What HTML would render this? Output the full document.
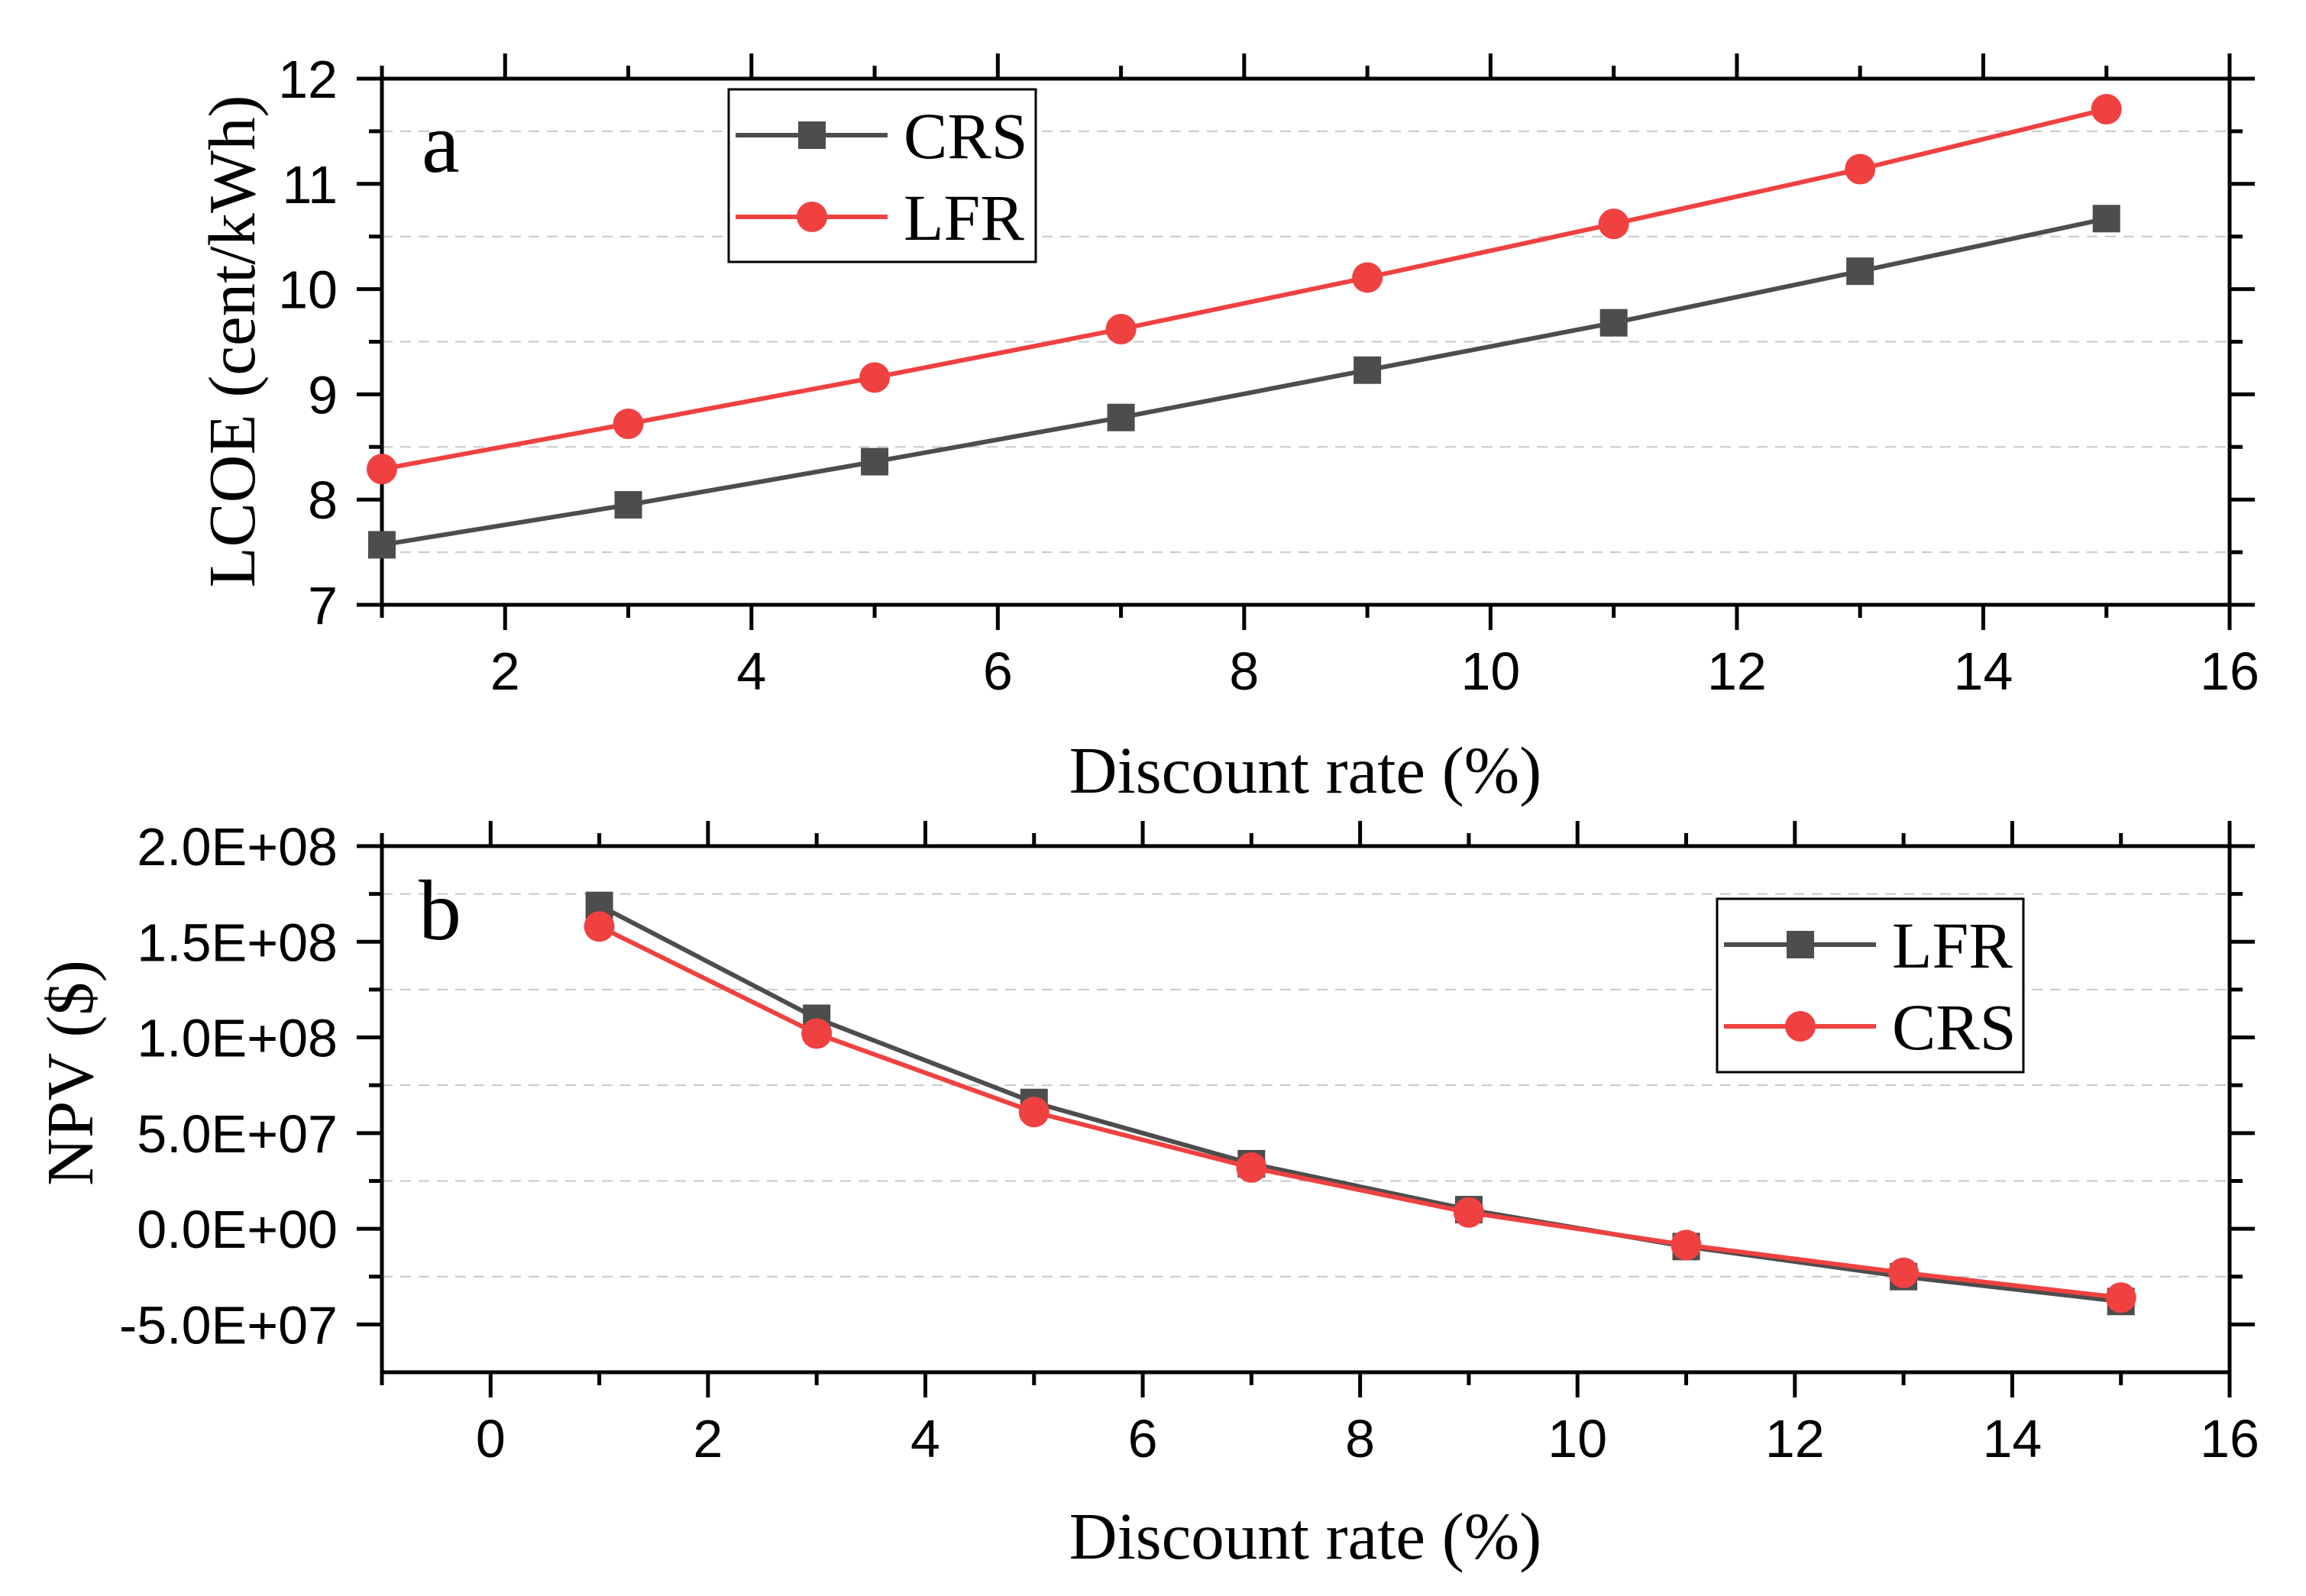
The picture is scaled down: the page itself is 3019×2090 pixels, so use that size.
<!DOCTYPE html>
<html><head><meta charset="utf-8"><style>
html,body{margin:0;padding:0;background:#fff;}
svg{display:block;}
.tk{font-family:"Liberation Sans",Arial,sans-serif;font-size:70px;fill:#000;}
.tt{font-family:"Liberation Serif","Times New Roman",serif;fill:#000;}
</style></head><body>
<svg id="chart" width="3019" height="2090" viewBox="0 0 3019 2090" xmlns="http://www.w3.org/2000/svg"></svg>
<script>
// Panel a data
const xA = [1, 3, 5, 7, 9, 11, 13, 15];
const lcoeCRS = [7.57, 7.95, 8.36, 8.78, 9.23, 9.68, 10.17, 10.67];
const lcoeLFR = [8.29, 8.72, 9.16, 9.62, 10.11, 10.62, 11.14, 11.71];
const xTicksA = [2, 4, 6, 8, 10, 12, 14, 16];
const yTicksA = [7, 8, 9, 10, 11, 12];
const yTickLabelsA = ["7", "8", "9", "10", "11", "12"];
// Panel b data
const xB = [1, 3, 5, 7, 9, 11, 13, 15];
const npvLFR = [1.69e8, 1.10e8, 6.6e7, 3.4e7, 1.0e7, -9.3e6, -2.5e7, -3.8e7];
const npvCRS = [1.58e8, 1.02e8, 6.1e7, 3.2e7, 8.5e6, -8.5e6, -2.3e7, -3.6e7];
const xTicksB = [0, 2, 4, 6, 8, 10, 12, 14, 16];
const yTicksB = [-5e7, 0, 5e7, 1e8, 1.5e8, 2e8];
const yTickLabelsB = ["-5.0E+07", "0.0E+00", "5.0E+07", "1.0E+08", "1.5E+08", "2.0E+08"];

const NS = "http://www.w3.org/2000/svg";
const svg = document.getElementById("chart");
function mk(tag, attrs, parent, text) {
  const e = document.createElementNS(NS, tag);
  for (const k in attrs) e.setAttribute(k, attrs[k]);
  if (text !== undefined) e.textContent = text;
  (parent || svg).appendChild(e);
  return e;
}
const GRAY = "#4d4d4d", RED = "#f04141";

function panel(cfg) {
  const L = 500, R = 2919, T = cfg.top, B = cfg.bottom;
  const sx = v => L + (v - cfg.xmin) / (cfg.xmax - cfg.xmin) * (R - L);
  const sy = v => B - (v - cfg.ymin) / (cfg.ymax - cfg.ymin) * (B - T);
  const g = mk("g", {});
  
  
  for (let k = 0; k < cfg.yMinor.length; k++) {
    const v = cfg.yMinor[k];
    const gl = mk("line", {x1: L, x2: R, y1: sy(v), y2: sy(v), stroke: "#c8c8c8", "stroke-width": 2, "stroke-dasharray": "14,10"}, g);
    
    
  }
  const fr = mk("rect", {x: L, y: T, width: R - L, height: B - T, fill: "none", stroke: "#000", "stroke-width": 5}, g);
  
  
  for (let k = 0; k < cfg.xMajor.length; k++) {
    const v = cfg.xMajor[k], x = sx(v);
    mk("line", {x1: x, x2: x, y1: B, y2: B + 33, stroke: "#000", "stroke-width": 5}, g);
    mk("line", {x1: x, x2: x, y1: T, y2: T - 33, stroke: "#000", "stroke-width": 5}, g);
    const t = mk("text", {x: x, y: B + 111, "text-anchor": "middle", class: "tk"}, g, String(v));
    
    
  }
  for (let k = 0; k < cfg.xMinorT.length; k++) {
    const x = sx(cfg.xMinorT[k]);
    mk("line", {x1: x, x2: x, y1: B, y2: B + 17, stroke: "#000", "stroke-width": 5}, g);
    mk("line", {x1: x, x2: x, y1: T, y2: T - 17, stroke: "#000", "stroke-width": 5}, g);
  }
  for (let k = 0; k < cfg.yMajor.length; k++) {
    const y = sy(cfg.yMajor[k]);
    mk("line", {x1: L, x2: L - 33, y1: y, y2: y, stroke: "#000", "stroke-width": 5}, g);
    mk("line", {x1: R, x2: R + 33, y1: y, y2: y, stroke: "#000", "stroke-width": 5}, g);
    const t = mk("text", {x: 442, y: y + 25, "text-anchor": "end", class: "tk"}, g, cfg.yLabels[k]);
    
    
  }
  for (let k = 0; k < cfg.yMinor.length; k++) {
    const y = sy(cfg.yMinor[k]);
    mk("line", {x1: L, x2: L - 17, y1: y, y2: y, stroke: "#000", "stroke-width": 5}, g);
    mk("line", {x1: R, x2: R + 17, y1: y, y2: y, stroke: "#000", "stroke-width": 5}, g);
  }
  for (const s of cfg.series) {
    const pts = s.y.map((v, i) => sx(s.x[i]) + "," + sy(v)).join(" ");
    const pl = mk("polyline", {points: pts, fill: "none", stroke: s.color, "stroke-width": 6}, g);
    
    
    for (let i = 0; i < s.y.length; i++) {
      const cx = sx(s.x[i]), cy = sy(s.y[i]);
      let m;
      if (s.shape === "sq") m = mk("rect", {x: cx - 18, y: cy - 18, width: 36, height: 36, fill: s.color}, g);
      else m = mk("circle", {cx: cx, cy: cy, r: 20, fill: s.color}, g);
      
      
    }
  }
  const lg = mk("g", {}, g);
  
  
  const lb = cfg.legend;
  mk("rect", {x: lb.x, y: lb.y, width: lb.w, height: lb.h, fill: "#fff", stroke: "#000", "stroke-width": 3}, lg);
  cfg.series.forEach((s, i) => {
    const cy = lb.rows[i], x0 = lb.x + 9;
    const e = mk("g", {}, lg);
    
    
    mk("line", {x1: x0, x2: x0 + 199, y1: cy, y2: cy, stroke: s.color, "stroke-width": 6}, e);
    if (s.shape === "sq") mk("rect", {x: x0 + 100 - 18, y: cy - 18, width: 36, height: 36, fill: s.color}, e);
    else mk("circle", {cx: x0 + 100, cy: cy, r: 20, fill: s.color}, e);
    mk("text", {x: lb.x + 229, y: cy + 30, class: "tt", "font-size": 86}, e, s.label);
  });
  const pl = mk("text", {x: cfg.letter[0], y: cfg.letter[1], class: "tt", "font-size": 112}, g, cfg.letterText);
  
  
  const xt = mk("text", {x: 1709, y: cfg.xTitleY, "text-anchor": "middle", class: "tt", "font-size": 87}, g, "Discount rate (%)");
  
  
  const yt = mk("text", {x: 0, y: 0, "text-anchor": "middle", class: "tt", "font-size": 87, transform: "translate(" + cfg.yTitle[0] + "," + cfg.yTitle[1] + ") rotate(-90)"}, g, cfg.yTitleText);
  
  
}

panel({
  name: "panel-a-lcoe", top: 103, bottom: 792, xmin: 1, xmax: 16, ymin: 7, ymax: 12,
  xMajor: xTicksA, xMinorT: [1, 3, 5, 7, 9, 11, 13, 15],
  yMajor: yTicksA, yLabels: yTickLabelsA, yMinor: [7.5, 8.5, 9.5, 10.5, 11.5],
  series: [
    {name: "crs", label: "CRS", x: xA, y: lcoeCRS, color: GRAY, shape: "sq"},
    {name: "lfr", label: "LFR", x: xA, y: lcoeLFR, color: RED, shape: "ci"}
  ],
  legend: {x: 954, y: 117, w: 402, h: 226, rows: [177, 284]},
  letter: [552, 225], letterText: "a",
  xTitleY: 1038, yTitle: [333, 447], yTitleText: "LCOE (cent/kWh)"
});
panel({
  name: "panel-b-npv", top: 1108, bottom: 1797, xmin: -1, xmax: 16, ymin: -7.5e7, ymax: 2e8,
  xMajor: xTicksB, xMinorT: [-1, 1, 3, 5, 7, 9, 11, 13, 15],
  yMajor: yTicksB, yLabels: yTickLabelsB, yMinor: [-2.5e7, 2.5e7, 7.5e7, 1.25e8, 1.75e8],
  series: [
    {name: "lfr", label: "LFR", x: xB, y: npvLFR, color: GRAY, shape: "sq"},
    {name: "crs", label: "CRS", x: xB, y: npvCRS, color: RED, shape: "ci"}
  ],
  legend: {x: 2248, y: 1177, w: 401, h: 227, rows: [1237, 1344]},
  letter: [548, 1230], letterText: "b",
  xTitleY: 2041, yTitle: [121, 1405], yTitleText: "NPV ($)"
});
</script>
</body></html>
